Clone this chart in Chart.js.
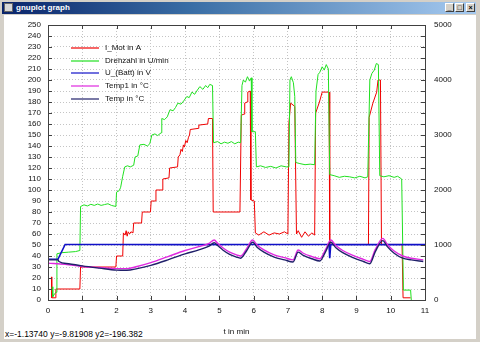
<!DOCTYPE html>
<html>
<head>
<meta charset="utf-8">
<script src="https://cdn.jsdelivr.net/npm/chart.js@4.4.0/dist/chart.umd.min.js"></script>
<style>
  html, body { margin: 0; padding: 0; }
  body { width: 480px; height: 342px; position: relative; overflow: hidden; background: #d4d0c8; font-family: "Liberation Sans", Arial, sans-serif; }
  #titlebar { position: absolute; left: 2px; top: 2px; width: 474px; height: 12px;
    background: linear-gradient(to right, #0a246a, #3a6ea5 40%, #a6caf0); }
  #titlebar .ico { position: absolute; left: 2px; top: 1px; width: 9px; height: 9px; background: #d8d8d8; border: 1px solid #666; box-sizing: border-box; }
  #titlebar .txt { position: absolute; left: 14px; top: 0px; color: #fff; font: bold 8px "Liberation Sans", Arial, sans-serif; line-height: 12px; }
  .btn { position: absolute; top: 1px; width: 9px; height: 9px; background: #d4d0c8; box-sizing: border-box;
    border-top: 1px solid #fff; border-left: 1px solid #fff; border-right: 1px solid #404040; border-bottom: 1px solid #404040;
    font: bold 7px "Liberation Sans", Arial, sans-serif; line-height: 7px; text-align: center; color: #000; }
  #client { position: absolute; left: 4px; top: 15px; width: 472px; height: 324px; background: #fff; }
  #status { position: absolute; left: 5px; top: 329px; font: 8.5px "Liberation Sans", Arial, sans-serif; color: #000; white-space: nowrap; }
  #c { position: absolute; left: 0; top: 0; }
</style>
</head>
<body>
<div id="titlebar">
  <div class="ico"></div>
  <div class="txt">gnuplot graph</div>
  <div class="btn" style="left:443px">_</div>
  <div class="btn" style="left:453px">&#9633;</div>
  <div class="btn" style="left:464px">&#215;</div>
</div>
<div id="client"></div>
<div id="status">x=-1.13740 y=-9.81908 y2=-196.382</div>
<canvas id="c" width="480" height="342"></canvas>
<script>
// legend labels
const seriesNames = ['I_Mot in A', 'Drehzahl in U/min', 'U_(Batt) in V', 'Temp1 in °C', 'Temp in °C'];

// I_Mot (A)
const motT = [0.10, 0.11, 0.22, 0.23, 0.93, 0.95, 1.98, 2.00, 2.18, 2.20, 2.25, 2.28, 2.31, 2.34, 2.38, 2.42, 2.48, 2.50, 2.73, 2.75,
  2.99, 3.01, 3.13, 3.15, 3.33, 3.35, 3.53, 3.55, 3.78, 3.80, 3.85, 3.88, 3.92, 3.95, 3.98, 4.02, 4.06, 4.10, 4.13, 4.15,
  4.38, 4.40, 4.66, 4.68, 4.80, 4.82, 5.60, 5.64, 5.72, 5.74, 5.81, 5.83, 5.90, 5.92, 6.02, 6.05, 6.15, 6.30, 6.45, 6.60,
  6.75, 6.90, 7.00, 7.03, 7.08, 7.20, 7.25, 7.30, 7.40, 7.50, 7.60, 7.70, 7.78, 7.81, 7.92, 8.00, 8.20, 8.22, 9.35, 9.37,
  9.48, 9.59, 9.63, 9.70, 9.73, 10.33, 10.36, 10.58];
const motA = [21, 2, 2, 10, 10, 30, 30, 40, 40, 61, 59, 63, 58, 62, 60, 62, 61, 70, 70, 80,
  80, 90, 90, 100, 100, 110, 111, 120, 121, 130, 132, 137, 135, 141, 139, 145, 143, 148, 150, 155,
  156, 159, 160, 165, 165, 80, 80, 168, 169, 179, 180, 189, 190, 91, 90, 61, 59, 62, 59, 61,
  60, 62, 60, 161, 179, 176, 60, 63, 57, 62, 58, 61, 59, 170, 180, 189, 189, 50.5, 50.5, 166,
  179, 189, 200, 200, 50.5, 50.5, 2, 2];

// Drehzahl (U/min)
const rpmT = [0.12, 0.14, 0.20, 0.24, 0.26, 0.40, 0.60, 0.80, 0.93, 0.95, 1.05, 1.15, 1.25, 1.35, 1.45, 1.55, 1.65, 1.75, 1.85, 1.98,
  2.00, 2.08, 2.12, 2.18, 2.24, 2.32, 2.40, 2.50, 2.54, 2.62, 2.68, 2.80, 2.90, 2.97, 3.03, 3.12, 3.20, 3.30, 3.32, 3.40,
  3.48, 3.56, 3.65, 3.72, 3.79, 3.88, 3.96, 4.05, 4.12, 4.20, 4.28, 4.34, 4.43, 4.52, 4.60, 4.66, 4.72, 4.80, 4.83, 4.95,
  5.05, 5.15, 5.25, 5.35, 5.45, 5.55, 5.62, 5.66, 5.70, 5.76, 5.82, 5.88, 5.93, 5.95, 6.05, 6.08, 6.20, 6.35, 6.50, 6.65,
  6.80, 6.95, 7.03, 7.06, 7.10, 7.16, 7.20, 7.23, 7.35, 7.50, 7.65, 7.78, 7.82, 7.88, 7.93, 8.00, 8.06, 8.12, 8.18, 8.22,
  8.35, 8.50, 8.65, 8.80, 8.95, 9.10, 9.25, 9.33, 9.39, 9.45, 9.52, 9.58, 9.64, 9.68, 9.80, 9.95, 10.10, 10.20, 10.32, 10.37,
  10.58, 10.60];
const rpmV = [240, 60, 120, 140, 840, 860, 870, 880, 900, 1700, 1730, 1710, 1740, 1720, 1745, 1720, 1735, 1750, 1720, 1700,
  1960, 1990, 2050, 2250, 2420, 2440, 2420, 2450, 2600, 2620, 2820, 2830, 2800, 2840, 3000, 3020, 2990, 3040, 3300, 3280,
  3330, 3460, 3440, 3500, 3580, 3560, 3620, 3700, 3680, 3780, 3740, 3800, 3880, 3830, 3900, 3860, 3920, 3900, 2860, 2880,
  2840, 2870, 2850, 2880, 2840, 2870, 2860, 3900, 4000, 3960, 4060, 3980, 4040, 3060, 3060, 2420, 2440, 2410, 2430, 2400,
  2440, 2420, 2420, 4000, 4060, 3950, 3700, 2500, 2480, 2460, 2470, 2460, 3800, 4100, 4140, 4240, 4180, 4280, 4200, 2280,
  2260, 2230, 2250, 2240, 2220, 2250, 2220, 2240, 4000, 4120, 4180, 4300, 4280, 2260, 2240, 2260, 2230, 2250, 2200, 180,
  180, 0];

// U_(Batt) (V)
const battT = [0, 0.29, 0.50, 2.0, 4.0, 6.0, 8.20, 8.22, 8.25, 10.0, 11.0];
const battV = [37, 37, 50.5, 50.5, 50.3, 50.5, 50.5, 38, 50.5, 50.3, 50.3];

// Temp1 (°C)
const temp1T = [0, 0.5, 1.0, 1.5, 2.0, 2.3, 2.6, 3.0, 3.5, 4.0, 4.4, 4.7, 4.85, 4.95, 5.1, 5.3, 5.5, 5.62, 5.8, 5.97,
  6.1, 6.3, 6.6, 6.9, 7.15, 7.3, 7.45, 7.7, 7.93, 8.1, 8.25, 8.4, 8.6, 8.9, 9.2, 9.39, 9.55, 9.77, 9.9, 10.1,
  10.35, 10.6, 10.95];
const temp1V = [33.5, 32.5, 30.5, 29.5, 28.5, 28.5, 30.5, 34, 39.5, 45, 48.5, 51.5, 54.5, 51.5, 47.5, 43.5, 41, 40, 47, 54.5,
  50, 45.5, 41, 38.5, 36.5, 45.5, 42.5, 39.5, 37.5, 46, 54.5, 49.5, 45, 40.5, 37, 35, 46, 56, 50.5, 44.5,
  40, 38, 36.5];

// Temp (°C)
const tempT = [0, 0.29, 0.32, 0.6, 1.0, 1.5, 2.0, 2.3, 2.6, 3.0, 3.5, 4.0, 4.4, 4.7, 4.85, 4.95, 5.1, 5.3, 5.5, 5.62,
  5.8, 5.97, 6.1, 6.3, 6.6, 6.9, 7.15, 7.3, 7.45, 7.7, 7.93, 8.1, 8.25, 8.4, 8.6, 8.9, 9.2, 9.39, 9.55, 9.77,
  9.9, 10.1, 10.35, 10.6, 10.95];
const tempV = [36.5, 36.5, 35, 33, 31, 29, 27.2, 27, 28.5, 31.5, 36.5, 42, 45.5, 49, 52, 49.5, 45.5, 41.5, 39, 38,
  45, 52.5, 48, 43.5, 39, 36.5, 34.5, 43.5, 40.5, 37.5, 35.5, 44, 52.5, 47.5, 43, 38.5, 35, 33, 44, 54,
  48.5, 42.5, 38, 36.5, 35];

const pts = (xs, ys) => xs.map((x, i) => ({ x: x, y: ys[i] }));

const colors = ['#f00000', '#20e020', '#1010c8', '#e028e0', '#20206a'];
const font = { family: '"Liberation Sans", Arial, sans-serif', size: 8 };

// frame, inward ticks and the legend inside the plot
const gnuFrame = {
  id: 'gnuFrame',
  afterDatasetsDraw(chart) {
    const { ctx, chartArea: a, scales } = chart;
    ctx.save();
    ctx.strokeStyle = '#404040';
    ctx.lineWidth = 1;
    ctx.setLineDash([]);
    ctx.beginPath();
    scales.x.ticks.forEach(t => {
      const px = Math.round(scales.x.getPixelForValue(t.value)) + 0.5;
      ctx.moveTo(px, a.bottom); ctx.lineTo(px, a.bottom - 4);
      ctx.moveTo(px, a.top); ctx.lineTo(px, a.top + 4);
    });
    scales.y.ticks.forEach(t => {
      const py = Math.round(scales.y.getPixelForValue(t.value)) + 0.5;
      ctx.moveTo(a.left, py); ctx.lineTo(a.left + 4, py);
      ctx.moveTo(a.right, py); ctx.lineTo(a.right - 4, py);
    });
    ctx.stroke();
    ctx.strokeRect(Math.round(a.left) + 0.5, Math.round(a.top) + 0.5, Math.round(a.right - a.left), Math.round(a.bottom - a.top));

    ctx.font = '8px "Liberation Sans", Arial, sans-serif';
    ctx.textBaseline = 'middle';
    ctx.fillStyle = '#111';
    seriesNames.forEach((name, i) => {
      const y = Math.round(a.top + 23 + i * 12.7);
      ctx.strokeStyle = colors[i];
      ctx.lineWidth = 1.2;
      ctx.beginPath();
      ctx.moveTo(a.left + 23, y); ctx.lineTo(a.left + 51, y);
      ctx.stroke();
      ctx.fillText(name, a.left + 57, y);
    });
    ctx.restore();
  }
};

new Chart(document.getElementById('c'), {
  type: 'line',
  data: {
    datasets: [
      // higher order is drawn first, so I_Mot sits underneath like in gnuplot
      { label: seriesNames[0], data: pts(motT, motA), yAxisID: 'y', borderColor: colors[0], borderWidth: 1, order: 5 },
      { label: seriesNames[1], data: pts(rpmT, rpmV), yAxisID: 'y2', borderColor: colors[1], borderWidth: 1, order: 4 },
      { label: seriesNames[2], data: pts(battT, battV), yAxisID: 'y', borderColor: colors[2], borderWidth: 1.6, order: 3 },
      { label: seriesNames[3], data: pts(temp1T, temp1V), yAxisID: 'y', borderColor: colors[3], borderWidth: 1.4, cubicInterpolationMode: 'monotone', order: 2 },
      { label: seriesNames[4], data: pts(tempT, tempV), yAxisID: 'y', borderColor: colors[4], borderWidth: 1.4, cubicInterpolationMode: 'monotone', order: 1 }
    ]
  },
  options: {
    responsive: false,
    animation: false,
    events: [],
    elements: { point: { radius: 0 }, line: { tension: 0 } },
    layout: { padding: { top: 25, left: 0, right: 0, bottom: 0 } },
    plugins: { legend: { display: false }, tooltip: { enabled: false } },
    scales: {
      x: {
        type: 'linear', min: 0, max: 11,
        afterFit: s => { s.height = 42; },
        ticks: { stepSize: 1, autoSkip: false, color: '#111', font: font, padding: 6, maxRotation: 0 },
        grid: { color: '#c4c4c4', drawTicks: false },
        border: { display: false, dash: [1, 2] },
        title: { display: true, text: 't in min', color: '#111', font: font, padding: { top: 0, bottom: 5 } }
      },
      y: {
        position: 'left', min: 0, max: 250,
        afterFit: s => { s.width = 48; },
        ticks: { stepSize: 10, autoSkip: false, color: '#111', font: font, padding: 7 },
        grid: { color: '#c4c4c4', drawTicks: false },
        border: { display: false, dash: [1, 2] }
      },
      y2: {
        position: 'right', min: 0, max: 5000,
        afterFit: s => { s.width = 55; },
        ticks: { stepSize: 1000, autoSkip: false, color: '#111', font: font, padding: 9, callback: v => String(v) },
        grid: { display: false, drawTicks: false },
        border: { display: false }
      }
    }
  },
  plugins: [gnuFrame]
});
</script>
</body>
</html>
